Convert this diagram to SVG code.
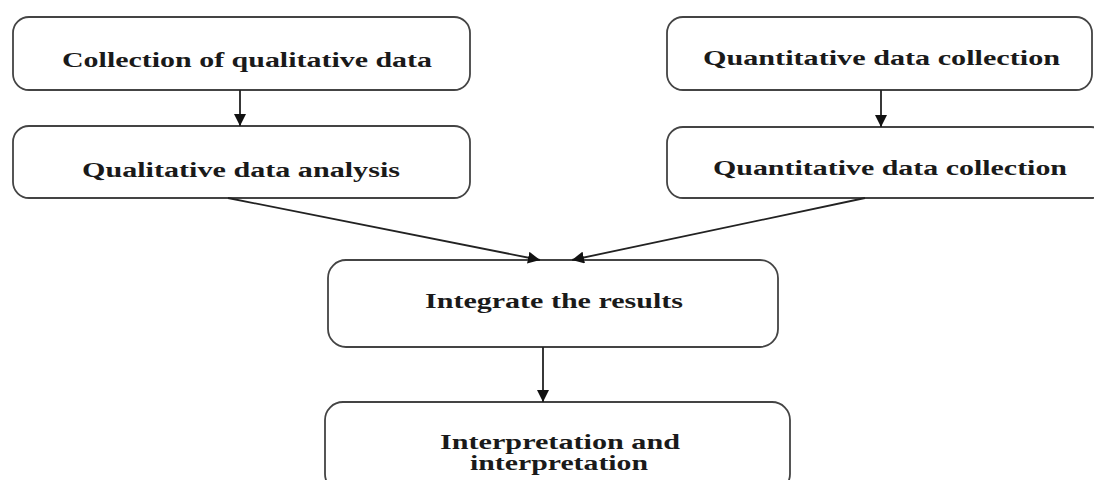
<svg xmlns="http://www.w3.org/2000/svg" width="1094" height="480" viewBox="0 0 1094 480">
<defs>
<style>
.box{fill:#fff;stroke:#444;stroke-width:1.8}
.lbl{font-family:"Liberation Serif","Times New Roman",serif;font-weight:bold;font-size:20px;fill:#1a1a1a}
.edge{stroke:#222;stroke-width:1.8;fill:none}
</style>
<marker id="ah" viewBox="0 0 10 10" refX="10" refY="5" markerWidth="12" markerHeight="12" markerUnits="userSpaceOnUse" orient="auto">
<path d="M0,0 L10,5 L0,10 z" fill="#111"/>
</marker>
</defs>
<rect width="1094" height="480" fill="#fff"/>
<g id="n1"><rect class="box" x="13" y="17" width="457" height="73" rx="16"/>
<text class="lbl" x="62" y="67" textLength="370" lengthAdjust="spacingAndGlyphs">Collection of qualitative data</text></g>
<g id="n2"><rect class="box" x="13" y="126" width="457" height="72" rx="16"/>
<text class="lbl" x="82" y="177" textLength="318" lengthAdjust="spacingAndGlyphs">Qualitative data analysis</text></g>
<g id="n3"><rect class="box" x="667" y="17" width="425" height="73" rx="16"/>
<text class="lbl" x="703" y="65" textLength="357" lengthAdjust="spacingAndGlyphs">Quantitative data collection</text></g>
<g id="n4"><rect class="box" x="667" y="127" width="440" height="71" rx="16"/>
<text class="lbl" x="713" y="175" textLength="354" lengthAdjust="spacingAndGlyphs">Quantitative data collection</text></g>
<g id="n5"><rect class="box" x="328" y="260" width="450" height="87" rx="18"/>
<text class="lbl" x="425" y="308" textLength="258" lengthAdjust="spacingAndGlyphs">Integrate the results</text></g>
<g id="n6"><rect class="box" x="325" y="402" width="465" height="90" rx="18"/>
<text class="lbl" x="440" y="449" textLength="240" lengthAdjust="spacingAndGlyphs">Interpretation and</text>
<text class="lbl" x="470" y="470" textLength="178" lengthAdjust="spacingAndGlyphs">interpretation</text></g>
<g id="edges">
<line class="edge" x1="240" y1="90" x2="240" y2="126" marker-end="url(#ah)"/>
<line class="edge" x1="881" y1="90" x2="881" y2="127" marker-end="url(#ah)"/>
<line class="edge" x1="228" y1="198" x2="540" y2="260" marker-end="url(#ah)"/>
<line class="edge" x1="865" y1="198" x2="572" y2="260" marker-end="url(#ah)"/>
<line class="edge" x1="543" y1="347" x2="543" y2="402" marker-end="url(#ah)"/>
</g>
</svg>
